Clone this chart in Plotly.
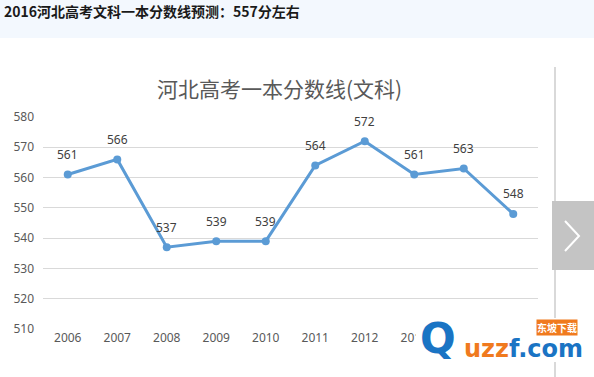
import plotly.graph_objects as go

years = [2006, 2007, 2008, 2009, 2010, 2011, 2012, 2013, 2014, 2015]
scores = [561, 566, 537, 539, 539, 564, 572, 561, 563, 548]
y_ticks = [510, 520, 530, 540, 550, 560, 570, 580]

W, H = 594, 377
L, R, T, B = 43, 538, 117, 329

def px(x):
    return (x - L) / (R - L)

def py(y):
    return (B - y) / (B - T)

fig = go.Figure()
fig.add_trace(go.Scatter(
    x=years, y=scores, mode="lines+markers",
    line=dict(color="#5B9BD5", width=3),
    marker=dict(color="#5B9BD5", size=8),
    hoverinfo="skip", showlegend=False, cliponaxis=False,
))

annotations = []
for yr, s in zip(years, scores):
    annotations.append(dict(x=yr, y=s, xref="x", yref="y", text=str(s), showarrow=False,
                            yshift=20, font=dict(family="Noto Sans, DejaVu Sans", size=12, color="#404040")))

# header text
annotations.append(dict(x=px(3), y=py(0), xref="paper", yref="paper", xanchor="left", yanchor="top",
                        text="<b>2016河北高考文科一本分数线预测：557分左右</b>", showarrow=False, borderpad=0,
                        font=dict(family="Noto Sans CJK SC", size=14, color="#1a1a1a")))
# chart title
annotations.append(dict(x=px(279), y=py(88), xref="paper", yref="paper", xanchor="center", yanchor="middle",
                        text="河北高考一本分数线(文科)", showarrow=False,
                        font=dict(family="Noto Sans CJK SC", size=21, color="#595959")))
# watermark logo
annotations.append(dict(x=px(462), y=py(349), xref="paper", yref="paper", xanchor="left", yanchor="middle",
                        text="<b><span style='color:#F07A1E'>uzz</span><span style='color:#1A74C4'>f.com</span></b>",
                        showarrow=False, font=dict(family="DejaVu Sans", size=24)))
annotations.append(dict(x=px(557), y=py(327), xref="paper", yref="paper", xanchor="center", yanchor="middle",
                        text="<b>东坡下载</b>", showarrow=False, bgcolor="#F07A1E", borderpad=0,
                        font=dict(family="Noto Sans CJK SC", size=10, color="white")))
annotations.append(dict(x=px(438), y=py(338), xref="paper", yref="paper", xanchor="center", yanchor="middle",
                        text="<b>Q</b>", showarrow=False,
                        font=dict(family="DejaVu Sans", size=42, color="#1A74C4")))

# arrow chevron path
chev = "M {:.5f},{:.5f} L {:.5f},{:.5f} L {:.5f},{:.5f}".format(
    px(565), py(221), px(579), py(236), px(565), py(251))

shapes = [
    dict(type="rect", xref="paper", yref="paper", x0=px(0), x1=px(W), y0=py(0), y1=py(38),
         fillcolor="#F3F8FE", line=dict(width=0), layer="below"),
    dict(type="line", xref="paper", yref="paper", x0=px(555), x1=px(555), y0=py(67), y1=py(377),
         line=dict(color="#D9D9D9", width=2)),
    dict(type="rect", xref="paper", yref="paper", x0=px(552), x1=px(594), y0=py(201), y1=py(270),
         fillcolor="#C4C4C4", line=dict(width=0)),
    dict(type="path", xref="paper", yref="paper", path=chev, line=dict(color="white", width=2)),
    dict(type="rect", xref="paper", yref="paper", x0=px(416), x1=px(588), y0=py(318), y1=py(362),
         fillcolor="white", line=dict(width=0)),
]

fig.update_layout(
    width=W, height=H,
    margin=dict(l=L, r=W - R, t=T, b=H - B),
    paper_bgcolor="white", plot_bgcolor="white",
    annotations=annotations, shapes=shapes,
    xaxis=dict(range=[2005.5, 2015.5], tickvals=years, showgrid=False, zeroline=False, showline=False,
               ticks="", tickfont=dict(family="Noto Sans, DejaVu Sans", size=12, color="#595959")),
    yaxis=dict(range=[510, 580], tickvals=y_ticks, showgrid=True, gridcolor="#D9D9D9", gridwidth=1,
               zeroline=False, showline=False, ticks="", ticklabelstandoff=8,
               tickfont=dict(family="Noto Sans, DejaVu Sans", size=12, color="#595959")),
)

fig.write_html("out.html", config={"displayModeBar": False},
               post_script="document.body.style.margin='0';")
